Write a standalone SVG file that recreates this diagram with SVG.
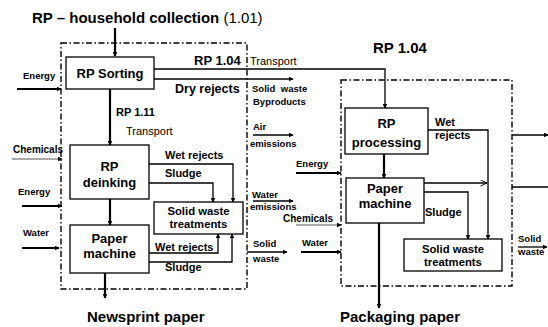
<svg xmlns="http://www.w3.org/2000/svg" width="548" height="327" viewBox="0 0 548 327">
<defs>
<marker id="ah" viewBox="0 0 8 8" refX="7" refY="4" markerWidth="5" markerHeight="5" orient="auto" markerUnits="userSpaceOnUse">
<path d="M0,0 L8,4 L0,8 z" fill="#000"/>
</marker>
<marker id="oa" viewBox="0 0 8 8" refX="7.5" refY="4" markerWidth="7" markerHeight="7" orient="auto" markerUnits="userSpaceOnUse">
<path d="M0,0.5 L7.5,4 L0,7.5" fill="none" stroke="#000" stroke-width="1"/>
</marker>
<style>
text{font-family:"Liberation Sans",Arial,sans-serif;font-weight:bold;fill:#000}
.n{font-weight:normal}
.box{fill:#fff;stroke:#000;stroke-width:1.3}
.dash{fill:none;stroke:#000;stroke-width:1.4;stroke-dasharray:6 2.5 1.5 2.5}
.c{fill:none;stroke:#000;stroke-width:1.3}
.t{fill:none;stroke:#000;stroke-width:2.2}
.g{fill:none;stroke:#555;stroke-width:1.2}
.bx{font-size:13px;text-anchor:middle}
.s{font-size:9.5px}
.m{font-size:11px}
</style>
</defs>
<rect width="548" height="327" fill="#fff"/>

<text x="32" y="23" font-size="15">RP – household collection <tspan class="n">(1.01)</tspan></text>

<rect class="dash" x="61" y="43" width="186" height="246"/>
<rect class="dash" x="341" y="80" width="171" height="206"/>

<g id="connectors">
<line class="t" x1="115" y1="28" x2="115" y2="56" marker-end="url(#ah)"/>
<line class="t" x1="17" y1="89" x2="61" y2="89" marker-end="url(#ah)"/>
<polyline class="c" points="154,69 385,69 385,108" marker-end="url(#ah)"/>
<line class="c" x1="154" y1="79" x2="293" y2="79" marker-end="url(#ah)"/>
<line class="t" x1="110" y1="89" x2="110" y2="145" marker-end="url(#ah)"/>
<line class="g" x1="12" y1="159" x2="62" y2="159" marker-end="url(#ah)"/>
<line class="t" x1="22" y1="206" x2="62" y2="206" marker-end="url(#ah)"/>
<line class="t" x1="22" y1="248" x2="59" y2="248" marker-end="url(#ah)"/>
<line class="t" x1="110" y1="199" x2="110" y2="225" marker-end="url(#ah)"/>
<polyline class="c" points="149,164 233,164 233,202" marker-end="url(#ah)"/>
<polyline class="c" points="149,183 213,183 213,202" marker-end="url(#ah)"/>
<polyline class="c" points="149,253 218,253 218,234" marker-end="url(#ah)"/>
<polyline class="c" points="149,262 232,262 232,234" marker-end="url(#ah)"/>
<line class="t" x1="105" y1="273" x2="105" y2="298" marker-end="url(#ah)"/>
<line class="c" x1="253" y1="135" x2="293" y2="135" marker-end="url(#ah)"/>
<line class="c" x1="253" y1="201" x2="293" y2="201" marker-end="url(#ah)"/>
<line class="c" x1="247" y1="252" x2="287" y2="252" marker-end="url(#ah)"/>
<line class="t" x1="296" y1="173" x2="341" y2="173" marker-end="url(#ah)"/>
<line class="g" x1="296" y1="225" x2="341" y2="225" marker-end="url(#ah)"/>
<line class="t" x1="301" y1="252" x2="341" y2="252" marker-end="url(#ah)"/>
<line class="t" x1="384" y1="154" x2="384" y2="178" marker-end="url(#ah)"/>
<polyline class="c" points="428,130 488,130 488,239" marker-end="url(#ah)"/>
<line class="c" x1="424" y1="183" x2="487" y2="183" marker-end="url(#oa)"/>
<polyline class="c" points="424,192 468,192 468,239" marker-end="url(#ah)"/>
<line class="t" x1="379" y1="223" x2="379" y2="308" marker-end="url(#ah)"/>
<line class="c" x1="512" y1="135" x2="548" y2="135" marker-end="url(#ah)"/>
<line class="c" x1="512" y1="187" x2="548" y2="187"/>
<line class="c" x1="518" y1="247" x2="547" y2="247" marker-end="url(#ah)"/>
</g>

<g id="rp-sorting">
<rect class="box" x="66" y="57" width="88" height="32"/>
<text class="bx" x="110" y="77.5">RP Sorting</text>
</g>
<g id="rp-deinking">
<rect class="box" x="70" y="145" width="79" height="54"/>
<text class="bx" x="109.5" y="170.5">RP</text>
<text class="bx" x="109.5" y="186.5">deinking</text>
</g>
<g id="paper-machine-1">
<rect class="box" x="70" y="225" width="79" height="48"/>
<text class="bx" x="109.5" y="242.5">Paper</text>
<text class="bx" x="109.5" y="257.5">machine</text>
</g>
<g id="solid-waste-1">
<rect class="box" x="154" y="202" width="89" height="32"/>
<text x="198.5" y="215" font-size="11.3" text-anchor="middle">Solid waste</text>
<text x="198.5" y="228" font-size="11.3" text-anchor="middle">treatments</text>
</g>
<g id="rp-processing">
<rect class="box" x="345" y="108" width="83" height="46"/>
<text class="bx" x="386.5" y="127.5">RP</text>
<text class="bx" x="386.5" y="146.5">processing</text>
</g>
<g id="paper-machine-2">
<rect class="box" x="346" y="178" width="78" height="45"/>
<text class="bx" x="385" y="192.5">Paper</text>
<text class="bx" x="385" y="207.5">machine</text>
</g>
<g id="solid-waste-2">
<rect class="box" x="404" y="239" width="98" height="32"/>
<text x="453" y="253" font-size="11.3" text-anchor="middle">Solid waste</text>
<text x="453" y="266" font-size="11.3" text-anchor="middle">treatments</text>
</g>

<g id="labels">
<text x="194" y="65" font-size="13">RP 1.04</text>
<text x="373" y="53" font-size="15">RP 1.04</text>
<text class="n" x="250" y="65" font-size="11">Transport</text>
<text class="s" x="23" y="78.5">Energy</text>
<text x="175" y="93" font-size="12.5">Dry rejects</text>
<text class="s" x="252" y="92" word-spacing="3">Solid waste</text>
<text class="s" x="253" y="104.5">Byproducts</text>
<text class="m" x="116" y="116">RP 1.11</text>
<text class="n" x="126" y="135" font-size="11">Transport</text>
<text class="s" x="253" y="130">Air</text>
<text class="s" x="250" y="147">emissions</text>
<text x="13" y="153" font-size="10">Chemicals</text>
<text class="m" x="165" y="159">Wet rejects</text>
<text class="m" x="165" y="177">Sludge</text>
<text class="s" x="296" y="167">Energy</text>
<text class="s" x="18" y="195">Energy</text>
<text class="s" x="252" y="198">Water</text>
<text class="s" x="250" y="210">emissions</text>
<text x="283" y="222" font-size="10">Chemicals</text>
<text class="s" x="23" y="236">Water</text>
<text class="s" x="253" y="247">Solid</text>
<text class="s" x="253" y="262">waste</text>
<text class="s" x="302" y="246">Water</text>
<text class="m" x="155" y="251">Wet rejects</text>
<text class="m" x="165" y="271">Sludge</text>
<text x="87" y="322" font-size="15">Newsprint paper</text>
<text x="340" y="322" font-size="15">Packaging paper</text>
<text class="m" x="435" y="126">Wet</text>
<text class="m" x="435" y="139">rejects</text>
<text class="m" x="425" y="216">Sludge</text>
<text class="s" x="518" y="242">Solid</text>
<text class="s" x="518" y="255">waste</text>
</g>
</svg>
